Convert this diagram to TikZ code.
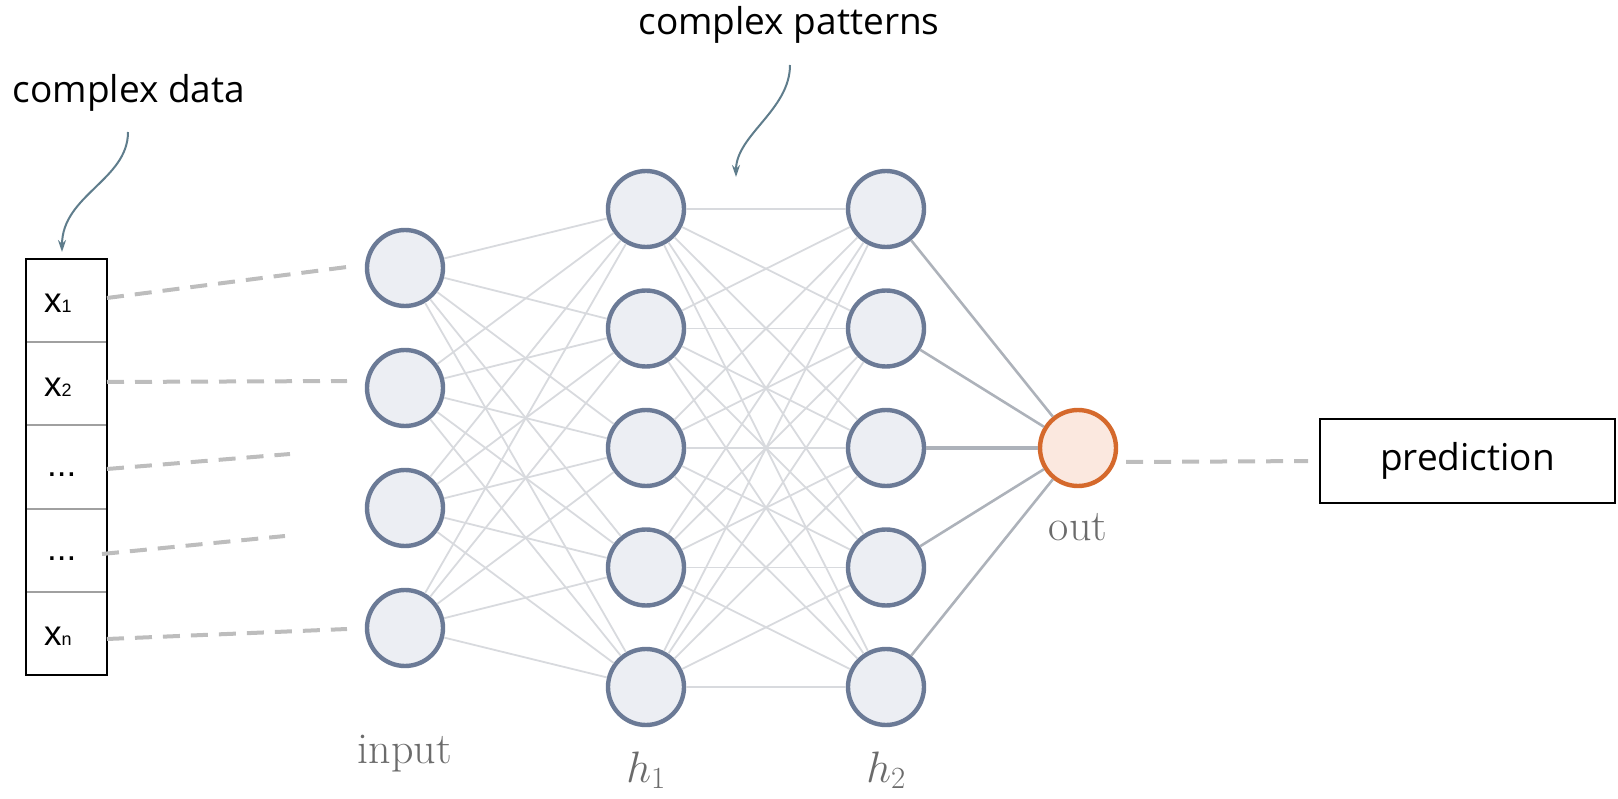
\RequirePackage{fix-cm}
\documentclass[tikz,border=0pt]{standalone}
\usepackage{fontspec}
\newfontfamily\osans{Open Sans}
\newfontfamily\arialf{Liberation Sans}
\usetikzlibrary{arrows.meta}
\definecolor{nstroke}{HTML}{6B7A96}
\definecolor{nfill}{HTML}{ECEEF3}
\definecolor{ostroke}{HTML}{D5692C}
\definecolor{ofill}{HTML}{FBE8DF}
\definecolor{edgel}{HTML}{D8DADE}
\definecolor{edged}{HTML}{ADB2BA}
\definecolor{dashc}{HTML}{BDBDBD}
\definecolor{arrowc}{HTML}{5F7D8C}
\definecolor{lblc}{HTML}{6B6B6B}
\definecolor{divc}{HTML}{A0A0A0}
\tikzset{
  neuron/.style={circle, minimum size=76pt, inner sep=0pt, draw=nstroke, line width=4.4pt, fill=nfill},
  outneuron/.style={neuron, draw=ostroke, fill=ofill},
  lightedge/.style={draw=edgel, line width=1.8pt},
  darkedge/.style={draw=edged, line width=2.6pt},
  feed/.style={draw=dashc, line width=4pt, dash pattern=on 17pt off 11pt},
  callout/.style={draw=arrowc, line width=2pt, -{Stealth[length=12pt,width=8pt,inset=4pt]}},
  cellbox/.style={rectangle, draw=divc, line width=2pt, minimum width=81pt, minimum height=83.2pt, inner sep=0pt},
  celltext/.style={font=\arialf\fontsize{35}{40}\selectfont, anchor=base west, inner sep=0pt},
  lbl/.style={text=lblc, font=\fontsize{44}{52}\selectfont, anchor=base, inner sep=0pt},
  note/.style={font=\osans\fontsize{37}{44}\selectfont, anchor=base, inner sep=0pt}
}
\newcommand{\subsc}[1]{{\fontsize{18}{20}\selectfont #1}}
\begin{document}
\begin{tikzpicture}[x=1pt,y=-1pt]
\useasboundingbox (0,0) rectangle (1618,799);
% input vector box
\foreach \k/\yy in {1/300.6,2/383.8,3/467.0,4/550.2,5/633.4}
  \node[cellbox] (cell\k) at (66.5,\yy) {};
\node[draw=black, line width=2pt, minimum width=81pt, minimum height=416pt, inner sep=0pt] (box) at (66.5,467) {};
\node[celltext] (t1) at (44,313) {x\subsc{1}};
\node[celltext] (t2) at (44,396.2) {x\subsc{2}};
\node[celltext] (t3) at (47,477) {...};
\node[celltext] (t4) at (47,560.2) {...};
\node[celltext] (t5) at (44,645.8) {x\subsc{n}};
% neurons
\foreach \k/\yy in {1/268,2/388,3/508,4/628}
  \node[neuron] (i\k) at (405,\yy) {};
\foreach \k/\yy in {1/209,2/328.5,3/448,4/567.5,5/687}
  \node[neuron] (a\k) at (646,\yy) {};
\foreach \k/\yy in {1/209,2/328.5,3/448,4/567.5,5/687}
  \node[neuron] (b\k) at (886,\yy) {};
\node[outneuron] (out) at (1078,448) {};
% edges
\foreach \i in {1,...,4}
  \foreach \j in {1,...,5}
    \draw[lightedge] (i\i) -- (a\j);
\foreach \i in {1,...,5}
  \foreach \j in {1,...,5}
    \draw[lightedge] (a\i) -- (b\j);
\foreach \i in {1,2,4,5}
  \draw[darkedge] (b\i) -- (out);
\draw[darkedge, line width=3.4pt] (b3) -- (out);
% dashed feeds
\coordinate (d1s) at (107,298); \coordinate (d1e) at (347,267);
\coordinate (d2s) at (107,382); \coordinate (d2e) at (347,381);
\coordinate (d3s) at (107,469); \coordinate (d3e) at (290,454);
\coordinate (d4s) at (102,554); \coordinate (d4e) at (285,536);
\coordinate (d5s) at (107,639); \coordinate (d5e) at (347,629);
\foreach \k in {1,...,5}
  \draw[feed] (d\k s) -- (d\k e);
% prediction
\node[draw=black, line width=2pt, minimum width=295pt, minimum height=84pt, inner sep=0pt, font=\osans\fontsize{37}{44}\selectfont] (pred) at (1467.5,461) {prediction};
\coordinate (po) at (1126,462);
\draw[feed, shorten >=11pt] (po) -- (pred.west);
% labels
\node[lbl] (linput) at (405,763) {input};
\node[lbl] (lh1) at (646,782) {$h_1$};
\node[lbl] (lh2) at (886,782) {$h_2$};
\node[lbl] (lout) at (1078,540) {out};
% notes and callouts
\node[note] (ncd) at (129,103) {complex data};
\node[note] (ncp) at (789,35) {complex patterns};
\coordinate (cds) at (128,132); \coordinate (cde) at (62,252);
\draw[callout] (cds) .. controls (128,180) and (62,195) .. (cde);
\coordinate (cps) at (790,65); \coordinate (cpe) at (736,177);
\draw[callout] (cps) .. controls (790,110) and (736,135) .. (cpe);
\end{tikzpicture}
\end{document}
